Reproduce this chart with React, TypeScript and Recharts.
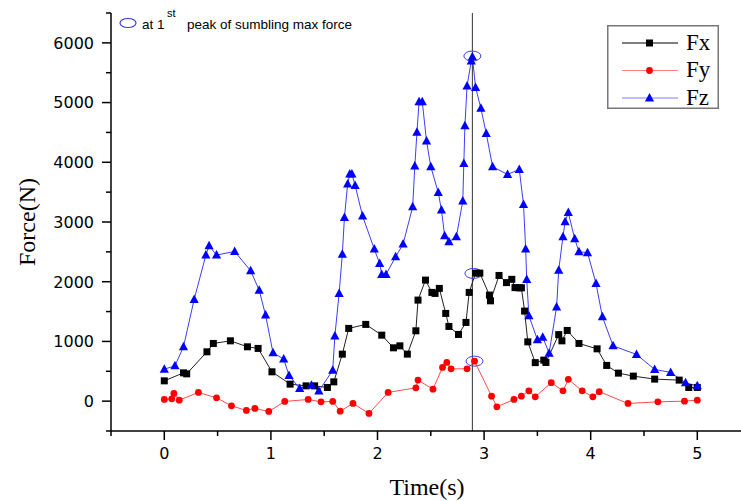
import { LineChart, Line, XAxis, YAxis, ReferenceLine, ReferenceDot, Legend, Customized } from 'recharts';

// Fx (black squares)
const fxTime = [0.0, 0.18, 0.21, 0.4, 0.46, 0.62, 0.78, 0.88, 1.01, 1.18, 1.33, 1.41, 1.53, 1.59, 1.67, 1.73, 1.89, 2.04, 2.15, 2.21, 2.28, 2.36, 2.38, 2.45, 2.51, 2.54, 2.58, 2.64, 2.67, 2.76, 2.83, 2.86, 2.92, 2.96, 3.05, 3.06, 3.14, 3.21, 3.26, 3.29, 3.33, 3.35, 3.38, 3.41, 3.48, 3.56, 3.58, 3.7, 3.73, 3.78, 3.89, 4.06, 4.15, 4.26, 4.4, 4.6, 4.83, 4.92, 5.0];
const fxForce = [340, 474, 457, 826, 966, 1010, 910, 883, 491, 285, 256, 256, 229, 323, 787, 1218, 1285, 1105, 893, 926, 787, 1178, 1692, 2027, 1821, 1804, 1888, 1469, 1251, 1117, 1318, 1821, 2144, 2144, 1776, 1680, 2105, 1985, 2040, 1901, 1898, 1898, 1508, 993, 645, 687, 648, 1114, 1010, 1184, 966, 876, 598, 469, 419, 369, 352, 229, 229];

// Fy (red circles)
const fyTime = [0.0, 0.07, 0.09, 0.14, 0.32, 0.49, 0.63, 0.77, 0.85, 0.98, 1.13, 1.35, 1.47, 1.58, 1.65, 1.77, 1.92, 2.1, 2.36, 2.38, 2.52, 2.61, 2.65, 2.69, 2.84, 2.91, 3.07, 3.12, 3.28, 3.35, 3.42, 3.48, 3.63, 3.74, 3.79, 3.92, 4.02, 4.08, 4.35, 4.63, 4.88, 5.0];
const fyForce = [28, 39, 129, 17, 146, 55, -79, -156, -122, -173, -5, 28, -12, -5, -168, -39, -206, 146, 223, 352, 201, 564, 648, 541, 541, 670, 84, -95, 28, 84, 173, 72, 310, 173, 365, 173, 72, 159, -39, -12, 0, 17];

// Fz (blue triangles)
const fzTime = [0.0, 0.1, 0.18, 0.28, 0.39, 0.42, 0.49, 0.66, 0.81, 0.89, 0.95, 1.02, 1.12, 1.17, 1.27, 1.38, 1.45, 1.58, 1.6, 1.64, 1.67, 1.69, 1.72, 1.74, 1.76, 1.79, 1.86, 1.97, 2.02, 2.04, 2.08, 2.17, 2.24, 2.33, 2.35, 2.37, 2.39, 2.42, 2.46, 2.5, 2.57, 2.6, 2.63, 2.67, 2.74, 2.8, 2.81, 2.82, 2.84, 2.88, 2.89, 2.92, 2.97, 3.02, 3.08, 3.22, 3.33, 3.37, 3.39, 3.4, 3.42, 3.5, 3.55, 3.61, 3.68, 3.7, 3.74, 3.76, 3.79, 3.85, 3.89, 3.97, 4.05, 4.11, 4.21, 4.43, 4.6, 4.75, 4.89, 5.0];
const fzForce = [536, 591, 910, 1703, 2446, 2601, 2446, 2507, 2183, 1859, 1441, 809, 704, 430, 213, 268, 168, 519, 1089, 1804, 2462, 3077, 3635, 3802, 3802, 3613, 3099, 2546, 2306, 2122, 2122, 2417, 2630, 3255, 3936, 4501, 5013, 5013, 4355, 3925, 3496, 3199, 2769, 2668, 2755, 3350, 3981, 4611, 5276, 5695, 5767, 5254, 4903, 4484, 3925, 3797, 3881, 3291, 2546, 2035, 1432, 1030, 1072, 804, 1575, 2194, 2755, 3003, 3157, 2719, 2501, 2487, 1971, 1412, 926, 782, 531, 481, 307, 256];

// circled peak points and the marker line
const peakTime = [2.89, 2.9, 2.91];
const peakForce = [5779, 2139, 670];
const markerTime = 2.89;

const xTicks = [-0.5, 0, 0.5, 1, 1.5, 2, 2.5, 3, 3.5, 4, 4.5, 5];
const yTicks = [-500, 0, 500, 1000, 1500, 2000, 2500, 3000, 3500, 4000, 4500, 5000, 5500, 6000, 6500];

const zip = (t: number[], v: number[]) => t.map((x, i) => ({ t: x, f: v[i] }));
const fxData = zip(fxTime, fxForce);
const fyData = zip(fyTime, fyForce);
const fzData = zip(fzTime, fzForce);

const SANS = 'DejaVu Sans, Liberation Sans, sans-serif';
const SERIF = 'Liberation Serif, Times New Roman, serif';

function XTick({ x, y, payload }: any) {
  const v = payload.value;
  const major = Number.isInteger(v);
  return (
    <g>
      <line x1={x} x2={x} y1={y} y2={y + (major ? 9 : 5)} stroke="#000" strokeWidth={1.5} />
      {major && (
        <text x={x} y={y + 28} textAnchor="middle" fontFamily={SANS} fontSize={16} fill="#000">
          {v}
        </text>
      )}
    </g>
  );
}

function YTick({ x, y, payload }: any) {
  const v = payload.value;
  const major = v % 1000 === 0;
  return (
    <g>
      <line x1={x - (major ? 9 : 5)} x2={x} y1={y} y2={y} stroke="#000" strokeWidth={1.5} />
      {major && (
        <text x={x - 17} y={y + 5.8} textAnchor="end" fontFamily={SANS} fontSize={16} fill="#000">
          {v}
        </text>
      )}
    </g>
  );
}

const squareDot = (p: any) => (
  <rect key={`fx-${p.index}`} x={p.cx - 3.5} y={p.cy - 3.5} width={7} height={7} fill="#000" />
);
const circleDot = (p: any) => <circle key={`fy-${p.index}`} cx={p.cx} cy={p.cy} r={3.4} fill="#ff0000" />;
const triangleDot = (p: any) => (
  <polygon
    key={`fz-${p.index}`}
    points={`${p.cx},${p.cy - 5} ${p.cx - 4.6},${p.cy + 3.5} ${p.cx + 4.6},${p.cy + 3.5}`}
    fill="#0000ff"
  />
);

const peakEllipse = (p: any) => (
  <ellipse cx={p.cx} cy={p.cy} rx={8.5} ry={5} fill="none" stroke="#3b3bf0" strokeWidth={1} />
);

const legendRows = [
  { name: 'Fx', line: '#000', marker: 'square' },
  { name: 'Fy', line: '#ff8080', marker: 'circle' },
  { name: 'Fz', line: '#8080ff', marker: 'triangle' },
];

function LegendBox() {
  return (
    <svg width={112} height={84} style={{ display: 'block', overflow: 'visible' }}>
      <rect x={0.75} y={0.75} width={110.5} height={82.5} fill="#fff" stroke="#777" strokeWidth={1.5} />
      {legendRows.map((r, i) => {
        const cy = 18 + i * 27.5;
        return (
          <g key={r.name}>
            <line x1={15} x2={71} y1={cy} y2={cy} stroke={r.line} strokeWidth={1} />
            {r.marker === 'square' && <rect x={39} y={cy - 3.5} width={7} height={7} fill="#000" />}
            {r.marker === 'circle' && <circle cx={42.5} cy={cy} r={3.4} fill="#ff0000" />}
            {r.marker === 'triangle' && (
              <polygon points={`42.5,${cy - 5} 37.9,${cy + 3.5} 47.1,${cy + 3.5}`} fill="#0000ff" />
            )}
            <text x={79} y={cy + 6.5} fontFamily={SERIF} fontSize={23} fill="#000">
              {r.name}
            </text>
          </g>
        );
      })}
    </svg>
  );
}

function Annotations() {
  return (
    <g>
      <ellipse cx={128} cy={23} rx={8} ry={4.5} fill="none" stroke="#3b3bf0" strokeWidth={1.2} />
      <text x={142} y={29} fontFamily="Liberation Sans, Arial, sans-serif" fontSize={13.5} fill="#000">
        at 1
        <tspan x={167} dy={-12} fontSize={11}>st</tspan>
        <tspan x={187} dy={12}>peak of sumbling max force</tspan>
      </text>
      <text x={427} y={495} textAnchor="middle" fontFamily={SERIF} fontSize={24} fill="#000">
        Time(s)
      </text>
      <text
        x={27}
        y={222}
        textAnchor="middle"
        dominantBaseline="central"
        transform="rotate(-90 27 222)"
        fontFamily={SERIF}
        fontSize={24}
        fill="#000"
      >
        Force(N)
      </text>
    </g>
  );
}

export default function App() {
  return (
    <div style={{ position: 'absolute', left: 0, top: 0, width: 741, height: 501, background: '#fff' }}>
      <LineChart width={741} height={501} margin={{ top: 13, right: 0, bottom: 0, left: 0 }}>
        <XAxis
          dataKey="t"
          type="number"
          domain={[-0.5, 5.41]}
          ticks={xTicks}
          allowDataOverflow
          height={70}
          tickSize={0}
          tickMargin={0}
          tick={<XTick />}
          axisLine={{ stroke: '#000', strokeWidth: 1.5 }}
          tickLine={false}
        />
        <YAxis
          type="number"
          domain={[-500, 6500]}
          ticks={yTicks}
          allowDataOverflow
          width={111}
          tickSize={0}
          tickMargin={0}
          tick={<YTick />}
          axisLine={{ stroke: '#000', strokeWidth: 1.5 }}
          tickLine={false}
        />
        <ReferenceLine x={markerTime} stroke="#333" strokeWidth={1} />
        <Line data={fxData} dataKey="f" name="Fx" type="linear" stroke="#222" strokeWidth={1} dot={squareDot} activeDot={false} isAnimationActive={false} />
        <Line data={fyData} dataKey="f" name="Fy" type="linear" stroke="#ff4d4d" strokeWidth={1} dot={circleDot} activeDot={false} isAnimationActive={false} />
        <Line data={fzData} dataKey="f" name="Fz" type="linear" stroke="#3d3dff" strokeWidth={1} dot={triangleDot} activeDot={false} isAnimationActive={false} />
        {peakTime.map((t, i) => (
          <ReferenceDot key={i} x={t} y={peakForce[i]} shape={peakEllipse} />
        ))}
        <Legend
          layout="vertical"
          align="center"
          verticalAlign="middle"
          wrapperStyle={{ left: 607, top: 25, width: 112, height: 84 }}
          content={() => <LegendBox />}
        />
        <Customized component={Annotations} />
      </LineChart>
    </div>
  );
}
